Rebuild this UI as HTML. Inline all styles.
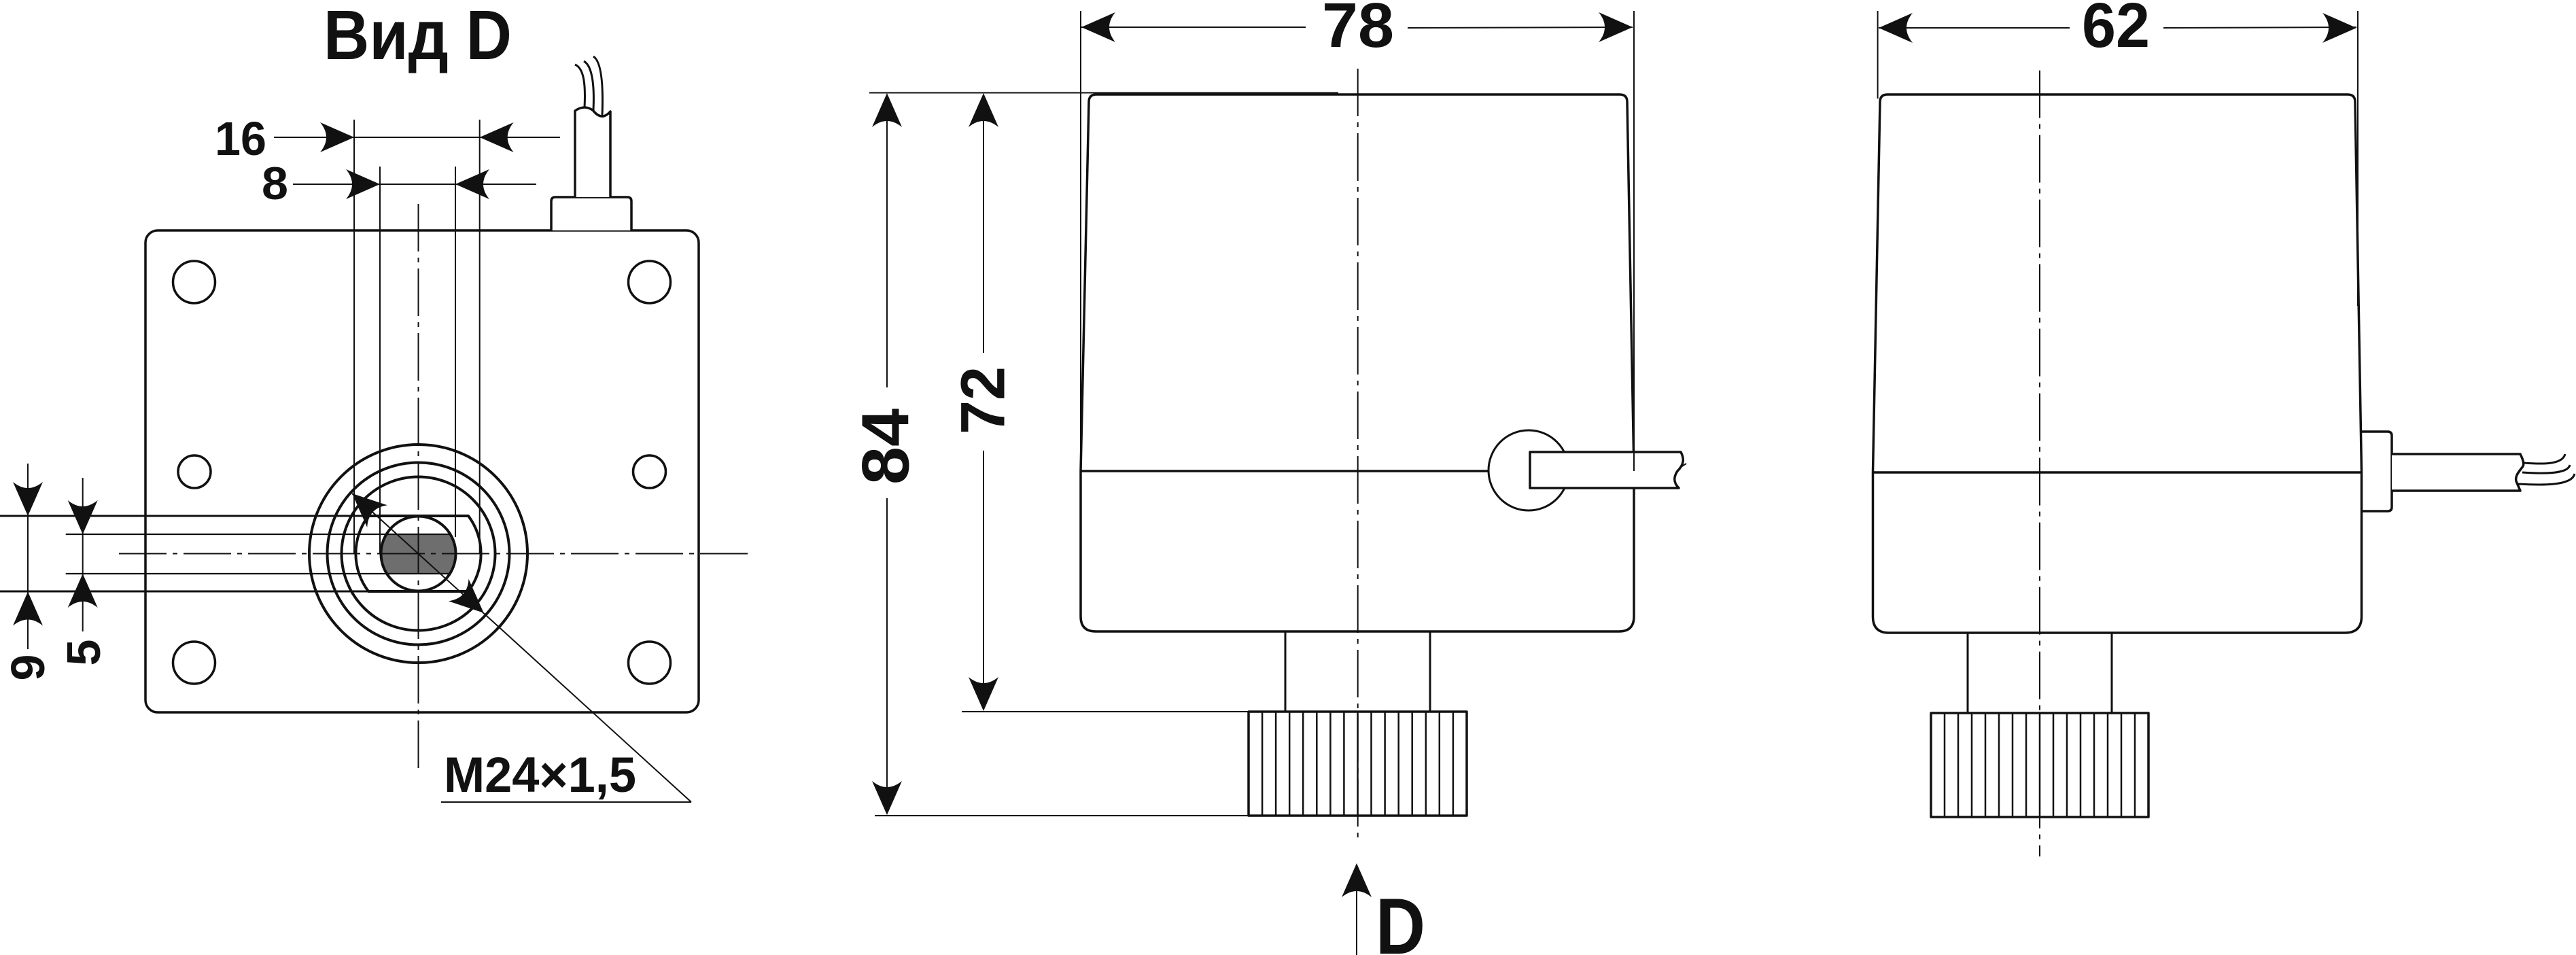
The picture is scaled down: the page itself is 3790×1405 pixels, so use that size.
<!DOCTYPE html>
<html><head><meta charset="utf-8"><style>
html,body{margin:0;padding:0;background:#fff;}
svg{display:block;}
text{font-family:"Liberation Sans",sans-serif;font-weight:bold;fill:#111;}
</style></head><body>
<svg xmlns="http://www.w3.org/2000/svg" width="3790" height="1405" viewBox="0 0 3790 1405">
<g fill="none" stroke="#111" stroke-linecap="butt" stroke-linejoin="round">

<!-- ============ LEFT VIEW (Вид D) ============ -->
<rect x="214" y="339" width="814" height="709" rx="18" ry="18" stroke-width="3.5"/>
<circle cx="285.5" cy="415" r="31" stroke-width="3.5"/>
<circle cx="955.5" cy="415" r="31" stroke-width="3.5"/>
<circle cx="286" cy="694" r="24" stroke-width="3.5"/>
<circle cx="955.5" cy="694" r="24" stroke-width="3.5"/>
<circle cx="285.5" cy="975" r="31" stroke-width="3.5"/>
<circle cx="955.5" cy="975" r="31" stroke-width="3.5"/>

<!-- connector + cable -->
<path d="M811 339 L811 296 Q811 290 817 290 L923 290 Q929 290 929 296 L929 339" fill="#fff" stroke-width="3.5"/>
<path d="M846 290 L846 163 Q853 158 860 158 Q867 158 873 163 Q880 172 888 171 Q894 169 898 164 L898 290" fill="#fff" stroke-width="3.5"/>
<path d="M860 158 C862 120 858 100 846 95" stroke-width="3"/>
<path d="M873 162 C875 120 870 96 859 90" stroke-width="3"/>
<path d="M886 170 C888 120 884 90 873 83" stroke-width="3"/>

<!-- extension lines 16 / 8 -->
<line x1="521" y1="176" x2="521" y2="814" stroke-width="2"/>
<line x1="705.7" y1="176" x2="705.7" y2="814" stroke-width="2"/>
<line x1="559" y1="245" x2="559" y2="814" stroke-width="2"/>
<line x1="670" y1="245" x2="670" y2="790" stroke-width="2"/>
<line x1="403" y1="202" x2="824" y2="202" stroke-width="2"/>
<line x1="431" y1="271" x2="789" y2="271" stroke-width="2"/>

<!-- circles -->
<circle cx="615.5" cy="814.5" r="160.5" stroke-width="4"/>
<circle cx="615.5" cy="814.5" r="134" stroke-width="4"/>
<circle cx="615.5" cy="814.5" r="113" stroke-width="4"/>
<path d="M542 759 L689 759 A92 92 0 0 1 689 870 L542 870 A92 92 0 0 1 542 759 Z" stroke-width="4"/>
<path d="M568.5 786 L662.5 786 A55 55 0 0 1 662.5 843 L568.5 843 A55 55 0 0 1 568.5 786 Z" fill="#6e6e6e" stroke="none"/>
<circle cx="615.5" cy="814.5" r="55" stroke-width="4"/>

<!-- horizontal ext lines 9 / 5 -->
<line x1="0" y1="759" x2="689" y2="759" stroke-width="3"/>
<line x1="0" y1="870" x2="689" y2="870" stroke-width="3"/>
<line x1="96.7" y1="786" x2="663" y2="786" stroke-width="2.2"/>
<line x1="96.7" y1="844" x2="663" y2="844" stroke-width="2.2"/>
<line x1="41" y1="682" x2="41" y2="955" stroke-width="2"/>
<line x1="121.7" y1="703" x2="121.7" y2="929" stroke-width="2"/>

<!-- center lines -->
<line x1="615.5" y1="300" x2="615.5" y2="1131" stroke-width="2" stroke-dasharray="70 9 7 9"/>
<line x1="175" y1="814.5" x2="1100" y2="814.5" stroke-width="2" stroke-dasharray="70 9 7 9"/>

<!-- diagonal leader -->
<line x1="518" y1="726" x2="1017" y2="1180" stroke-width="2"/>
<line x1="649" y1="1180" x2="1017" y2="1180" stroke-width="2"/>

<!-- ============ MIDDLE VIEW ============ -->
<path d="M1590 693 L1602 150 Q1602 139 1613 139 L2383 139 Q2394 139 2394 150 L2404 693 L2404 907 Q2404 929 2382 929 L1612 929 Q1590 929 1590 907 Z" stroke-width="3.5"/>
<line x1="1590" y1="693" x2="2191" y2="693" stroke-width="3.5"/>
<circle cx="2249" cy="692" r="59" stroke-width="3"/>
<path d="M2251 665 L2473 665 C2478 675 2478 683 2468 693 C2462 702 2462 710 2470 718 L2251 718 Z" fill="#fff" stroke-width="3.5"/>
<path d="M2470 690 C2474 686 2478 684 2481 682" stroke-width="2"/>
<!-- stem + knob -->
<rect x="1891" y="929" width="213" height="118" stroke-width="3"/>
<rect x="1837" y="1047" width="321" height="153" fill="#fff" stroke-width="3.5"/>
<g stroke-width="2.5">
<line x1="1857.1" y1="1047" x2="1857.1" y2="1200"/><line x1="1877.1" y1="1047" x2="1877.1" y2="1200"/>
<line x1="1897.2" y1="1047" x2="1897.2" y2="1200"/><line x1="1917.2" y1="1047" x2="1917.2" y2="1200"/>
<line x1="1937.3" y1="1047" x2="1937.3" y2="1200"/><line x1="1957.4" y1="1047" x2="1957.4" y2="1200"/>
<line x1="1977.4" y1="1047" x2="1977.4" y2="1200"/><line x1="1997.5" y1="1047" x2="1997.5" y2="1200"/>
<line x1="2017.5" y1="1047" x2="2017.5" y2="1200"/><line x1="2037.6" y1="1047" x2="2037.6" y2="1200"/>
<line x1="2057.7" y1="1047" x2="2057.7" y2="1200"/><line x1="2077.7" y1="1047" x2="2077.7" y2="1200"/>
<line x1="2097.8" y1="1047" x2="2097.8" y2="1200"/><line x1="2117.8" y1="1047" x2="2117.8" y2="1200"/>
<line x1="2137.9" y1="1047" x2="2137.9" y2="1200"/>
</g>
<!-- dims middle -->
<line x1="1590" y1="16" x2="1590" y2="693" stroke-width="2"/>
<line x1="2404" y1="16" x2="2404" y2="693" stroke-width="2"/>
<line x1="1591" y1="40" x2="1921" y2="40" stroke-width="2"/>
<line x1="2071" y1="41" x2="2402" y2="40" stroke-width="2"/>
<line x1="1279" y1="136.5" x2="1969" y2="136.5" stroke-width="2"/>
<line x1="1415" y1="1047" x2="1837" y2="1047" stroke-width="2"/>
<line x1="1287" y1="1200" x2="1837" y2="1200" stroke-width="2"/>
<line x1="1305" y1="150" x2="1305" y2="570" stroke-width="2"/>
<line x1="1305" y1="733" x2="1305" y2="1190" stroke-width="2"/>
<line x1="1447" y1="150" x2="1447" y2="519" stroke-width="2"/>
<line x1="1447" y1="663" x2="1447" y2="1040" stroke-width="2"/>
<line x1="1997.7" y1="101" x2="1997.7" y2="1233.5" stroke-width="2" stroke-dasharray="70 9 7 9"/>
<line x1="1996" y1="1300" x2="1996" y2="1405" stroke-width="2"/>

<!-- ============ RIGHT VIEW ============ -->
<path d="M2755.5 695 L2766 150 Q2766 139 2777 139 L3454 139 Q3465 139 3465 150 L3474.5 695 L3474.5 907 Q3474.5 931 3450 931 L2779 931 Q2755.5 931 2755.5 907 Z" stroke-width="3.5"/>
<line x1="2755.5" y1="695" x2="3474.5" y2="695" stroke-width="3.5"/>
<path d="M3475 635 L3513 635 Q3519 635 3519 641 L3519 746 Q3519 752 3513 752 L3475 752" stroke-width="3.5"/>
<path d="M3519 668 L3708 668 C3712 676 3714 682 3712 686 C3706 694 3700 700 3702 708 L3708 722 L3519 722" fill="#fff" stroke-width="3.5"/>
<path d="M3713 681 C3740 683 3770 684 3774 668" stroke-width="3"/>
<path d="M3711 695 C3740 697 3778 698 3781 684" stroke-width="3"/>
<path d="M3704 712 C3740 714 3784 715 3788 697" stroke-width="3"/>
<rect x="2895" y="931" width="212" height="118" stroke-width="3"/>
<rect x="2841" y="1049" width="320" height="153" fill="#fff" stroke-width="3.5"/>
<g stroke-width="2.5">
<line x1="2861" y1="1049" x2="2861" y2="1202"/><line x1="2881" y1="1049" x2="2881" y2="1202"/>
<line x1="2901" y1="1049" x2="2901" y2="1202"/><line x1="2921" y1="1049" x2="2921" y2="1202"/>
<line x1="2941" y1="1049" x2="2941" y2="1202"/><line x1="2961" y1="1049" x2="2961" y2="1202"/>
<line x1="2981" y1="1049" x2="2981" y2="1202"/><line x1="3001" y1="1049" x2="3001" y2="1202"/>
<line x1="3021" y1="1049" x2="3021" y2="1202"/><line x1="3041" y1="1049" x2="3041" y2="1202"/>
<line x1="3061" y1="1049" x2="3061" y2="1202"/><line x1="3081" y1="1049" x2="3081" y2="1202"/>
<line x1="3101" y1="1049" x2="3101" y2="1202"/><line x1="3121" y1="1049" x2="3121" y2="1202"/>
<line x1="3141" y1="1049" x2="3141" y2="1202"/>
</g>
<line x1="2762.6" y1="16" x2="2762.6" y2="145" stroke-width="2"/>
<line x1="3469" y1="16" x2="3469" y2="450" stroke-width="2"/>
<line x1="2764" y1="41" x2="3045" y2="41" stroke-width="2"/>
<line x1="3183" y1="41" x2="3467" y2="40" stroke-width="2"/>
<line x1="3001" y1="103.6" x2="3001" y2="1260" stroke-width="2" stroke-dasharray="70 9 7 9"/>
</g>

<!-- ============ ARROWHEADS ============ -->
<g fill="#111" stroke="none">
<path d="M521 202 L471 180 Q489 202 471 224 Z"/>
<path d="M705.7 202 L755.7 180 Q737.7 202 755.7 224 Z"/>
<path d="M559 271 L509 249 Q527 271 509 293 Z"/>
<path d="M670 271 L720 249 Q702 271 720 293 Z"/>
<path d="M41 759 L19 709 Q41 727 63 709 Z"/>
<path d="M41 870.5 L19 920.5 Q41 902.5 63 920.5 Z"/>
<path d="M121.7 786 L99.7 736 Q121.7 754 143.7 736 Z"/>
<path d="M121.7 844 L99.7 894 Q121.7 876 143.7 894 Z"/>
<path d="M518 726 L569.8 743.3 Q541.7 747.5 540.2 775.9 Z"/>
<path d="M711.7 901.7 L689.5 851.8 Q688 880.2 659.9 884.4 Z"/>
<path d="M1591 40 L1641 18 Q1623 40 1641 62 Z"/>
<path d="M2402 40 L2352 18 Q2370 40 2352 62 Z"/>
<path d="M2764 41 L2814 19 Q2796 41 2814 63 Z"/>
<path d="M3467 41 L3417 19 Q3435 41 3417 63 Z"/>
<path d="M1305 137 L1283 187 Q1305 169 1327 187 Z"/>
<path d="M1305 1199 L1283 1149 Q1305 1167 1327 1149 Z"/>
<path d="M1447 137 L1425 187 Q1447 169 1469 187 Z"/>
<path d="M1447 1046 L1425 996 Q1447 1014 1469 996 Z"/>
<path d="M1996 1270 L1974 1320 Q1996 1302 2018 1320 Z"/>
</g>

<!-- ============ TEXT ============ -->
<text x="476" y="87" font-size="103" textLength="277" lengthAdjust="spacingAndGlyphs">Вид D</text>
<text x="316" y="228" font-size="70" textLength="76" lengthAdjust="spacingAndGlyphs">16</text>
<text x="385" y="293" font-size="68" textLength="39" lengthAdjust="spacingAndGlyphs">8</text>
<text x="1945" y="69" font-size="93" textLength="106" lengthAdjust="spacingAndGlyphs">78</text>
<text x="3063" y="69" font-size="93" textLength="100" lengthAdjust="spacingAndGlyphs">62</text>
<text x="653" y="1165" font-size="73" textLength="283" lengthAdjust="spacingAndGlyphs">M24×1,5</text>
<text x="2024" y="1403" font-size="117" textLength="73" lengthAdjust="spacingAndGlyphs">D</text>
<text transform="translate(1301.5,657) rotate(-90)" x="0" y="35" font-size="98" text-anchor="middle" textLength="112" lengthAdjust="spacingAndGlyphs">84</text>
<text transform="translate(1444.5,589) rotate(-90)" x="0" y="33" font-size="92" text-anchor="middle" textLength="100" lengthAdjust="spacingAndGlyphs">72</text>
<text transform="translate(40,982) rotate(-90)" x="0" y="25" font-size="70" text-anchor="middle" textLength="39" lengthAdjust="spacingAndGlyphs">9</text>
<text transform="translate(122,960) rotate(-90)" x="0" y="25" font-size="70" text-anchor="middle" textLength="39" lengthAdjust="spacingAndGlyphs">5</text>
</svg>
</body></html>
